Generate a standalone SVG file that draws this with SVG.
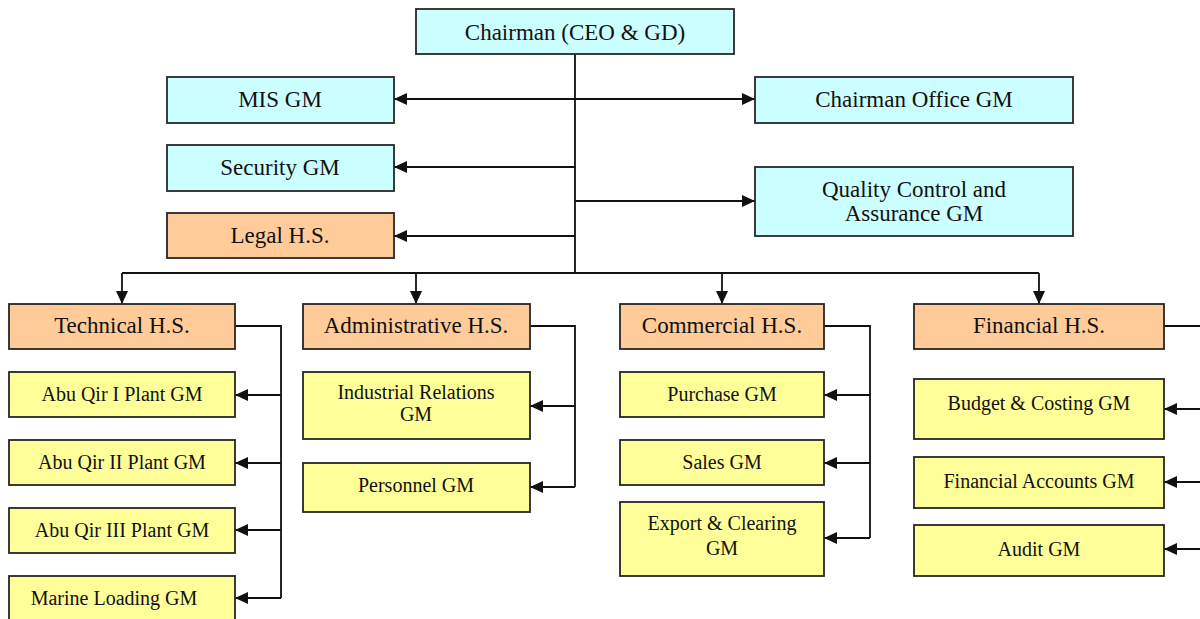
<svg xmlns="http://www.w3.org/2000/svg" width="1200" height="619" viewBox="0 0 1200 619">
<defs>
<style>
.box{stroke:#262626;stroke-width:1.8}
.c{fill:#CCFFFF}
.o{fill:#FFCC99}
.y{fill:#FFFF99}
text{font-family:"Liberation Serif","Times New Roman",serif;fill:#111;text-anchor:middle}
.t1{font-size:23px}
.t2{font-size:20px}
.ln{fill:none;stroke:#111;stroke-width:1.8}
.arr{marker-end:url(#ah)}
</style>
<marker id="ah" markerWidth="13" markerHeight="12" refX="13" refY="6" orient="auto" markerUnits="userSpaceOnUse">
<path d="M0,0 L13,6 L0,12 z" fill="#111"/>
</marker>
</defs>
<rect width="1200" height="619" fill="#fff"/>
<g id="connectors">
<path class="ln" d="M575,54 V273 M122,273 H1039"/>
<path class="ln arr" d="M575,99 H394"/>
<path class="ln arr" d="M575,99 H755"/>
<path class="ln arr" d="M575,167 H394"/>
<path class="ln arr" d="M575,236 H394"/>
<path class="ln arr" d="M575,201 H755"/>
<path class="ln arr" d="M122,273 V304"/>
<path class="ln arr" d="M416,273 V304"/>
<path class="ln arr" d="M722,273 V304"/>
<path class="ln arr" d="M1039,273 V304"/>
<path class="ln" d="M235,326 H281 V598"/>
<path class="ln arr" d="M281,395 H235"/>
<path class="ln arr" d="M281,463 H235"/>
<path class="ln arr" d="M281,530 H235"/>
<path class="ln arr" d="M281,598 H235"/>
<path class="ln" d="M530,326 H575 V487"/>
<path class="ln arr" d="M575,406 H530"/>
<path class="ln arr" d="M575,487 H530"/>
<path class="ln" d="M824,326 H870 V538"/>
<path class="ln arr" d="M870,395 H824"/>
<path class="ln arr" d="M870,463 H824"/>
<path class="ln arr" d="M870,538 H824"/>
<path class="ln" d="M1164,326 H1202"/>
<path class="ln arr" d="M1202,409 H1164"/>
<path class="ln arr" d="M1202,482 H1164"/>
<path class="ln arr" d="M1202,549 H1164"/>
</g>
<g id="chairman"><rect class="box c" x="416" y="9" width="318" height="45"/><text class="t1" x="575" y="40">Chairman (CEO &amp; GD)</text></g>
<g id="mis"><rect class="box c" x="167" y="77" width="227" height="46"/><text class="t1" x="280" y="107">MIS GM</text></g>
<g id="security"><rect class="box c" x="167" y="145" width="227" height="46"/><text class="t1" x="280" y="175">Security GM</text></g>
<g id="legal"><rect class="box o" x="167" y="213" width="227" height="45"/><text class="t1" x="280" y="243">Legal H.S.</text></g>
<g id="chairman-office"><rect class="box c" x="755" y="77" width="318" height="46"/><text class="t1" x="914" y="107">Chairman Office GM</text></g>
<g id="qc"><rect class="box c" x="755" y="167" width="318" height="69"/><text class="t1" x="914" y="197">Quality Control and</text><text class="t1" x="914" y="221">Assurance GM</text></g>
<g id="technical"><rect class="box o" x="9" y="304" width="226" height="45"/><text class="t1" x="122" y="333">Technical H.S.</text></g>
<g id="abuqir1"><rect class="box y" x="9" y="372" width="226" height="45"/><text class="t2" x="122" y="401">Abu Qir I Plant GM</text></g>
<g id="abuqir2"><rect class="box y" x="9" y="440" width="226" height="45"/><text class="t2" x="122" y="469">Abu Qir II Plant GM</text></g>
<g id="abuqir3"><rect class="box y" x="9" y="508" width="226" height="45"/><text class="t2" x="122" y="537">Abu Qir III Plant GM</text></g>
<g id="marine"><rect class="box y" x="9" y="576" width="226" height="50"/><text class="t2" x="114" y="605">Marine Loading GM</text></g>
<g id="administrative"><rect class="box o" x="303" y="304" width="227" height="45"/><text class="t1" x="416" y="333">Administrative H.S.</text></g>
<g id="industrial"><rect class="box y" x="303" y="372" width="227" height="67"/><text class="t2" x="416" y="399">Industrial Relations</text><text class="t2" x="416" y="421">GM</text></g>
<g id="personnel"><rect class="box y" x="303" y="463" width="227" height="49"/><text class="t2" x="416" y="492">Personnel GM</text></g>
<g id="commercial"><rect class="box o" x="620" y="304" width="204" height="45"/><text class="t1" x="722" y="333">Commercial H.S.</text></g>
<g id="purchase"><rect class="box y" x="620" y="372" width="204" height="45"/><text class="t2" x="722" y="401">Purchase GM</text></g>
<g id="sales"><rect class="box y" x="620" y="440" width="204" height="45"/><text class="t2" x="722" y="469">Sales GM</text></g>
<g id="export"><rect class="box y" x="620" y="502" width="204" height="74"/><text class="t2" x="722" y="530">Export &amp; Clearing</text><text class="t2" x="722" y="555">GM</text></g>
<g id="financial"><rect class="box o" x="914" y="304" width="250" height="45"/><text class="t1" x="1039" y="333">Financial H.S.</text></g>
<g id="budget"><rect class="box y" x="914" y="379" width="250" height="60"/><text class="t2" x="1039" y="410">Budget &amp; Costing GM</text></g>
<g id="accounts"><rect class="box y" x="914" y="457" width="250" height="51"/><text class="t2" x="1039" y="488">Financial Accounts GM</text></g>
<g id="audit"><rect class="box y" x="914" y="525" width="250" height="51"/><text class="t2" x="1039" y="556">Audit GM</text></g>
</svg>
